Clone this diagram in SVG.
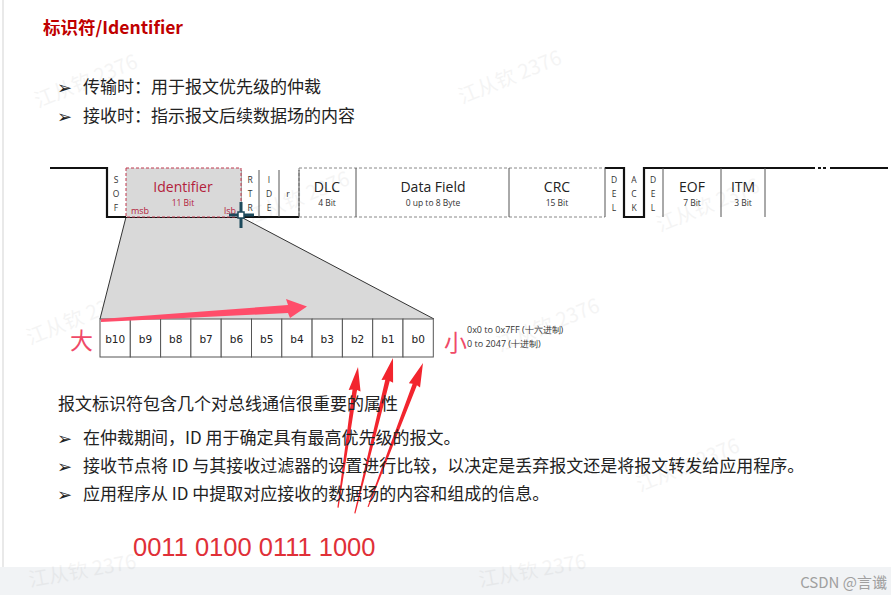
<svg xmlns="http://www.w3.org/2000/svg" width="891" height="595" viewBox="0 0 891 595">
<defs>
<style>
.cjk{font-family:"Noto Sans CJK SC","Noto Sans",sans-serif;}
.lat{font-family:"Open Sans","Noto Sans",sans-serif;}
.wm{font-family:"Noto Sans CJK SC",sans-serif;font-size:20px;fill:#000;opacity:0.04;}
.sep{stroke:#555;stroke-width:1;fill:none;}
.wave{stroke:#111;stroke-width:2.2;fill:none;}
.dash{stroke:#888;stroke-width:1;stroke-dasharray:3 2;fill:none;}
.lbl{font-family:"Open Sans",sans-serif;font-size:14px;fill:#222;text-anchor:middle;}
.sub{font-family:"Open Sans",sans-serif;font-size:8.5px;fill:#333;text-anchor:middle;}
.vl{font-family:"Open Sans",sans-serif;font-size:8.5px;fill:#333;text-anchor:middle;}
.bit{fill:#fff;stroke:#555;stroke-width:1;}
.bt{font-family:"DejaVu Sans",sans-serif;font-size:10.5px;fill:#222;text-anchor:middle;}
.body{font-family:"Noto Sans CJK SC",sans-serif;font-size:17px;fill:#222;}
.bul{font-family:"DejaVu Sans",sans-serif;font-size:18px;fill:#222;}
.red-arrow{fill:#f2252e;}
</style>
</defs>
<rect width="891" height="595" fill="#fff"/>
<line x1="3" y1="0" x2="3" y2="567" stroke="#e2e2e2" stroke-width="1.5"/>
<rect x="0" y="567" width="891" height="28" fill="#f1f3f5"/>

<!-- watermarks -->
<g id="watermarks">
<text class="wm" transform="translate(38,108) rotate(-22)">江从钦 2376</text>
<text class="wm" transform="translate(462,104) rotate(-22)">江从钦 2376</text>
<text class="wm" transform="translate(30,345) rotate(-22)">江从钦 2376</text>
<text class="wm" transform="translate(500,352) rotate(-22)">江从钦 2376</text>
<text class="wm" transform="translate(660,232) rotate(-22)">江从钦 2376</text>
<text class="wm" transform="translate(640,492) rotate(-22)">江从钦 2376</text>
<text class="wm" transform="translate(250,225) rotate(-22)">江从钦 2376</text>
<text class="wm" transform="translate(30,587) rotate(-10)">江从钦 2376</text>
<text class="wm" transform="translate(480,587) rotate(-10)">江从钦 2376</text>
</g>

<!-- title and bullets -->
<g id="title">
<text class="cjk" x="43" y="34" font-size="17.5" font-weight="bold" fill="#c00000">标识符/Identifier</text>
</g>
<g id="intro">
<text class="bul" x="57" y="94">➢</text>
<text class="body" x="83" y="93">传输时：用于报文优先级的仲裁</text>
<text class="bul" x="57" y="123">➢</text>
<text class="body" x="83" y="122">接收时：指示报文后续数据场的内容</text>
</g>

<!-- trapezoid expansion -->
<g id="zoom-shape">
<polygon points="126,217 241,217 434,319 100,319" fill="#d9d9d9"/>
<line x1="126" y1="217" x2="100" y2="319" stroke="#333" stroke-width="1"/>
<line x1="241" y1="217" x2="434" y2="319" stroke="#333" stroke-width="1"/>
</g>

<!-- frame -->
<g id="frame">
<path class="wave" d="M50,168 H107 V217 H299"/>
<path class="dash" d="M299,168 H605 M299,217 H605 M299,168 V217"/>
<path class="wave" d="M605,168 H624 V217 H644 V168 H815"/>
<path class="wave" d="M818,168 H821 M823,168 H826"/>
<path class="wave" d="M830,168 H888"/>
<path class="sep" d="M259,170 V217 M279,170 V217 M299,170 V217 M356,168 V217 M509,168 V217 M605,168 V217 M663,168 V217 M721,168 V217 M765,168 V217 M241,170 V217"/>
</g>

<g id="sof">
<text class="vl" x="116" y="183">S</text>
<text class="vl" x="116" y="197">O</text>
<text class="vl" x="116" y="211">F</text>
</g>
<g id="identifier">
<rect x="126" y="168" width="115" height="49" fill="#d9d9d9" stroke="#c0394f" stroke-width="1" stroke-dasharray="3 2"/>
<text class="lat" x="183" y="192" font-size="14" fill="#b3213b" text-anchor="middle">Identifier</text>
<text class="lat" x="183" y="206" font-size="8.5" fill="#b3213b" text-anchor="middle">11 Bit</text>
<text class="lat" x="131" y="214" font-size="9" fill="#b3213b">msb</text>
<text class="lat" x="224" y="214" font-size="9" fill="#b3213b">lsb</text>
</g>
<g id="rtr">
<text class="vl" x="250" y="183">R</text>
<text class="vl" x="250" y="197">T</text>
<text class="vl" x="250" y="211">R</text>
</g>
<g id="ide">
<text class="vl" x="269" y="183">I</text>
<text class="vl" x="269" y="197">D</text>
<text class="vl" x="269" y="211">E</text>
</g>
<g id="r">
<text class="vl" x="288" y="197">r</text>
</g>
<g id="dlc">
<text class="lbl" x="327" y="192">DLC</text>
<text class="sub" x="327" y="206">4 Bit</text>
</g>
<g id="datafield">
<text class="lbl" x="433" y="192">Data Field</text>
<text class="sub" x="433" y="206">0 up to 8 Byte</text>
</g>
<g id="crc">
<text class="lbl" x="557" y="192">CRC</text>
<text class="sub" x="557" y="206">15 Bit</text>
</g>
<g id="del1">
<text class="vl" x="614" y="183">D</text>
<text class="vl" x="614" y="197">E</text>
<text class="vl" x="614" y="211">L</text>
</g>
<g id="ack">
<text class="vl" x="634" y="183">A</text>
<text class="vl" x="634" y="197">C</text>
<text class="vl" x="634" y="211">K</text>
</g>
<g id="del2">
<text class="vl" x="653" y="183">D</text>
<text class="vl" x="653" y="197">E</text>
<text class="vl" x="653" y="211">L</text>
</g>
<g id="eof">
<text class="lbl" x="692" y="192">EOF</text>
<text class="sub" x="692" y="206">7 Bit</text>
</g>
<g id="itm">
<text class="lbl" x="743" y="192">ITM</text>
<text class="sub" x="743" y="206">3 Bit</text>
</g>

<!-- cursor -->
<g id="cursor">
<path d="M229,215 H254 M241,202 V228" stroke="#1d4a5c" stroke-width="3"/>
<rect x="238" y="212" width="6" height="6" fill="#fff" stroke="#1d4a5c" stroke-width="1.5"/>
</g>

<!-- bit row -->
<g id="bits">
<rect class="bit" x="100" y="319" width="30.3" height="38"/>
<rect class="bit" x="130.3" y="319" width="30.3" height="38"/>
<rect class="bit" x="160.6" y="319" width="30.3" height="38"/>
<rect class="bit" x="190.9" y="319" width="30.3" height="38"/>
<rect class="bit" x="221.2" y="319" width="30.3" height="38"/>
<rect class="bit" x="251.5" y="319" width="30.3" height="38"/>
<rect class="bit" x="281.8" y="319" width="30.3" height="38"/>
<rect class="bit" x="312.1" y="319" width="30.3" height="38"/>
<rect class="bit" x="342.4" y="319" width="30.3" height="38"/>
<rect class="bit" x="372.7" y="319" width="30.3" height="38"/>
<rect class="bit" x="403" y="319" width="30.3" height="38"/>
<text class="bt" x="115.2" y="343">b10</text>
<text class="bt" x="145.5" y="343">b9</text>
<text class="bt" x="175.8" y="343">b8</text>
<text class="bt" x="206.1" y="343">b7</text>
<text class="bt" x="236.4" y="343">b6</text>
<text class="bt" x="266.7" y="343">b5</text>
<text class="bt" x="297" y="343">b4</text>
<text class="bt" x="327.3" y="343">b3</text>
<text class="bt" x="357.6" y="343">b2</text>
<text class="bt" x="387.9" y="343">b1</text>
<text class="bt" x="418.2" y="343">b0</text>
</g>
<g id="big-small">
<text class="cjk" x="70" y="349" font-size="23" fill="#f04a68">大</text>
<text class="cjk" x="444" y="351" font-size="23" fill="#f04a68">小</text>
</g>
<g id="range">
<text class="lat" x="467" y="333" font-size="9" fill="#333">0x0 to 0x7FF (十六进制)</text>
<text class="lat" x="467" y="347" font-size="9" fill="#333">0 to 2047 (十进制)</text>
</g>

<!-- connectors: hand-drawn arrows -->
<g id="connectors">
<polygon points="101,319 288,305 286,299 307,306.5 290,318 288,313 101,322" fill="#ff4d6a"/>
<g class="red-arrow">
<polygon transform="translate(358,367) rotate(8.1)" points="0,0 6,24 2.3,23 0.6,142 -0.6,142 -2.3,23 -6,24"/>
<polygon transform="translate(393,358) rotate(13.8)" points="0,0 6,24 2.3,23 0.6,160 -0.6,160 -2.3,23 -6,24"/>
<polygon transform="translate(423,363) rotate(20.9)" points="0,0 6,24 2.3,23 0.6,154 -0.6,154 -2.3,23 -6,24"/>
</g>
</g>

<!-- properties text -->
<g id="properties">
<text class="body" x="58" y="410">报文标识符包含几个对总线通信很重要的属性</text>
<text class="bul" x="57" y="445">➢</text>
<text class="body" x="83" y="444">在仲裁期间，ID 用于确定具有最高优先级的报文。</text>
<text class="bul" x="57" y="473">➢</text>
<text class="body" x="83" y="472">接收节点将 ID 与其接收过滤器的设置进行比较，以决定是丢弃报文还是将报文转发给应用程序。</text>
<text class="bul" x="57" y="501">➢</text>
<text class="body" x="83" y="500">应用程序从 ID 中提取对应接收的数据场的内容和组成的信息。</text>
</g>

<g id="binary">
<text x="133" y="556" font-family="Liberation Sans, Arial, sans-serif" font-size="25.5" fill="#e03038">0011 0100 0111 1000</text>
</g>

<g id="footer">
<text class="cjk" x="887" y="588" font-size="15" fill="#a0a0a0" text-anchor="end">CSDN @言谶</text>
</g>
</svg>
